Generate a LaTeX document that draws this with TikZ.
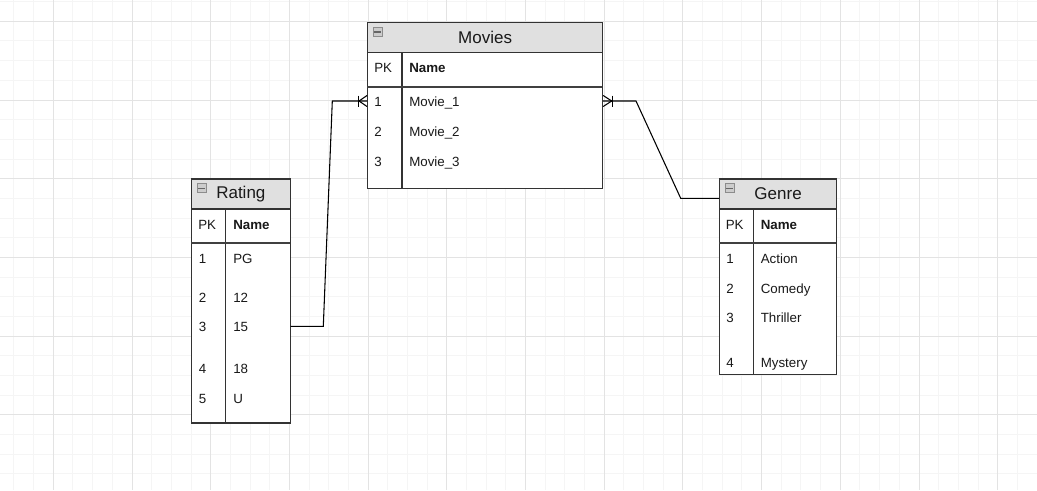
\documentclass[tikz,border=0pt]{standalone}
\usepackage{fontspec}
\setmainfont{Liberation Sans}
\usetikzlibrary{calc}
\begin{document}
\begin{tikzpicture}[x=0.75pt,y=-0.75pt,
  minorgrid/.style={draw=black!4, line width=0.75pt},
  majorgrid/.style={draw=black!11, line width=0.75pt},
  tbl/.style={draw=black!80, line width=0.9pt, fill=white, inner sep=0pt, anchor=north west},
  hdr/.style={draw=black!80, line width=0.9pt, fill=black!12, inner sep=0pt, anchor=north west, font=\fontsize{12.75}{14}\selectfont, text=black!90},
  col/.style={draw=black!80, line width=0.9pt},
  sepline/.style={draw=black!75, line width=1.5pt},
  cell/.style={anchor=west, inner sep=0pt, text height=0.716em, text depth=0pt, font=\fontsize{10}{12}\selectfont, text=black!90},
  namecell/.style={cell, font=\fontsize{10}{12}\selectfont\bfseries},
  conn/.style={draw=black, line width=0.8pt},
  icon/.style={draw=black!45, fill=black!20, line width=0.6pt, inner sep=0pt, minimum size=6.75pt, anchor=north west},
  icondash/.style={draw=black!60, line width=0.9pt},
]
\useasboundingbox (0,0) rectangle (1037,490);
\fill[white] (0,0) rectangle (1037,490);
\begin{scope}
\clip (0,0) rectangle (1037,490);
\foreach \i in {-3,...,52} \draw[minorgrid] ({53.3+\i*19.675},0) -- ({53.3+\i*19.675},490);
\foreach \j in {-2,...,24} \draw[minorgrid] (0,{21.3+\j*19.675}) -- (1037,{21.3+\j*19.675});
\foreach \i in {-1,...,13} \draw[majorgrid] ({53.3+\i*78.7},0) -- ({53.3+\i*78.7},490);
\foreach \j in {0,...,6} \draw[majorgrid] (0,{21.3+\j*78.7}) -- (1037,{21.3+\j*78.7});
\end{scope}

% ---------- Movies ----------
\node[tbl, minimum width={235*0.75pt}, minimum height={165.5*0.75pt}] (movies) at (367,22) {};
\node[hdr, minimum width={235*0.75pt}, minimum height={30*0.75pt}] (movies-h) at (367,22) {Movies};
\node[icon] (movies-i) at (372.5,27) {};
\draw[icondash] ([xshift=1.3pt]movies-i.west) -- ([xshift=-1.3pt]movies-i.east);
\draw[col] (402,52) -- (402,187.5);
\draw[sepline] (367,86.5) -- (602,86.5);
\node[cell] (movies-pk) at (374,67.7) {PK};
\node[namecell] (movies-name) at (409,67.7) {Name};
\node[cell] (movies-k1) at (374,102) {1};
\node[cell] (movies-v1) at (409,102) {Movie\_1};
\node[cell] (movies-k2) at (374,132) {2};
\node[cell] (movies-v2) at (409,132) {Movie\_2};
\node[cell] (movies-k3) at (374,162) {3};
\node[cell] (movies-v3) at (409,162) {Movie\_3};

% ---------- Rating ----------
\node[tbl, minimum width={98.5*0.75pt}, minimum height={244*0.75pt}] (rating) at (191,178.3) {};
\node[hdr, minimum width={98.5*0.75pt}, minimum height={30*0.75pt}] (rating-h) at (191,178.3) {Rating};
\node[icon] (rating-i) at (196.7,183.3) {};
\draw[icondash] ([xshift=1.3pt]rating-i.west) -- ([xshift=-1.3pt]rating-i.east);
\draw[col] (225.7,208.3) -- (225.7,422.3);
\draw[sepline] (191,242.7) -- (289.5,242.7);
\node[cell] (rating-pk) at (198,225) {PK};
\node[namecell] (rating-name) at (233,225) {Name};
\node[cell] (rating-k1) at (198.5,258.3) {1};
\node[cell] (rating-v1) at (233,258.3) {PG};
\node[cell] (rating-k2) at (198.5,297.7) {2};
\node[cell] (rating-v2) at (233,297.7) {12};
\node[cell] (rating-k3) at (198.5,326.7) {3};
\node[cell] (rating-v3) at (233,326.7) {15};
\node[cell] (rating-k4) at (198.5,369) {4};
\node[cell] (rating-v4) at (233,369) {18};
\node[cell] (rating-k5) at (198.5,398.3) {5};
\node[cell] (rating-v5) at (233,398.3) {U};

% ---------- Genre ----------
\node[tbl, minimum width={117*0.75pt}, minimum height={195.7*0.75pt}] (genre) at (719,178.3) {};
\node[hdr, minimum width={117*0.75pt}, minimum height={30*0.75pt}] (genre-h) at (719,178.3) {Genre};
\node[icon] (genre-i) at (724.7,183.3) {};
\draw[icondash] ([xshift=1.3pt]genre-i.west) -- ([xshift=-1.3pt]genre-i.east);
\draw[col] (753.7,208.3) -- (753.7,374);
\draw[sepline] (719,242.7) -- (836,242.7);
\node[cell] (genre-pk) at (725.5,225) {PK};
\node[namecell] (genre-name) at (760.5,225) {Name};
\node[cell] (genre-k1) at (726,258.3) {1};
\node[cell] (genre-v1) at (760.5,258.3) {Action};
\node[cell] (genre-k2) at (726,288.3) {2};
\node[cell] (genre-v2) at (760.5,288.3) {Comedy};
\node[cell] (genre-k3) at (726,317.7) {3};
\node[cell] (genre-v3) at (760.5,317.7) {Thriller};
\node[cell] (genre-k4) at (726,362.7) {4};
\node[cell] (genre-v4) at (760.5,362.7) {Mystery};

% ---------- Connectors ----------
\coordinate (mL) at ([yshift=-59.25pt]movies.north west);
\coordinate (mR) at ([yshift=-59.25pt]movies.north east);
\coordinate (rR) at ([yshift=-111pt]rating.north east);
\coordinate (gL) at ([yshift=-15pt]genre.north west);
\coordinate (lc1) at (323.3,326.3);
\coordinate (lc2) at (332.3,101);
\coordinate (rc1) at (636,101);
\coordinate (rc2) at (680.7,198.3);

\draw[conn] (rR) -- (lc1) -- (lc2) -- (mL);
\draw[conn] (mR) -- (rc1) -- (rc2) -- (gL);

% crow's feet (one-to-many)
\draw[conn] ($(mL)+(-8.5,-5.5)$) -- ($(mL)+(-8.5,5.5)$);
\draw[conn] ($(mL)+(-8,0)$) -- ($(mL)+(0,-5.5)$);
\draw[conn] ($(mL)+(-8,0)$) -- ($(mL)+(0,5.5)$);
\draw[conn] ($(mR)+(9,-5.5)$) -- ($(mR)+(9,5.5)$);
\draw[conn] ($(mR)+(8.5,0)$) -- ($(mR)+(0,-5.5)$);
\draw[conn] ($(mR)+(8.5,0)$) -- ($(mR)+(0,5.5)$);
\end{tikzpicture}
\end{document}
